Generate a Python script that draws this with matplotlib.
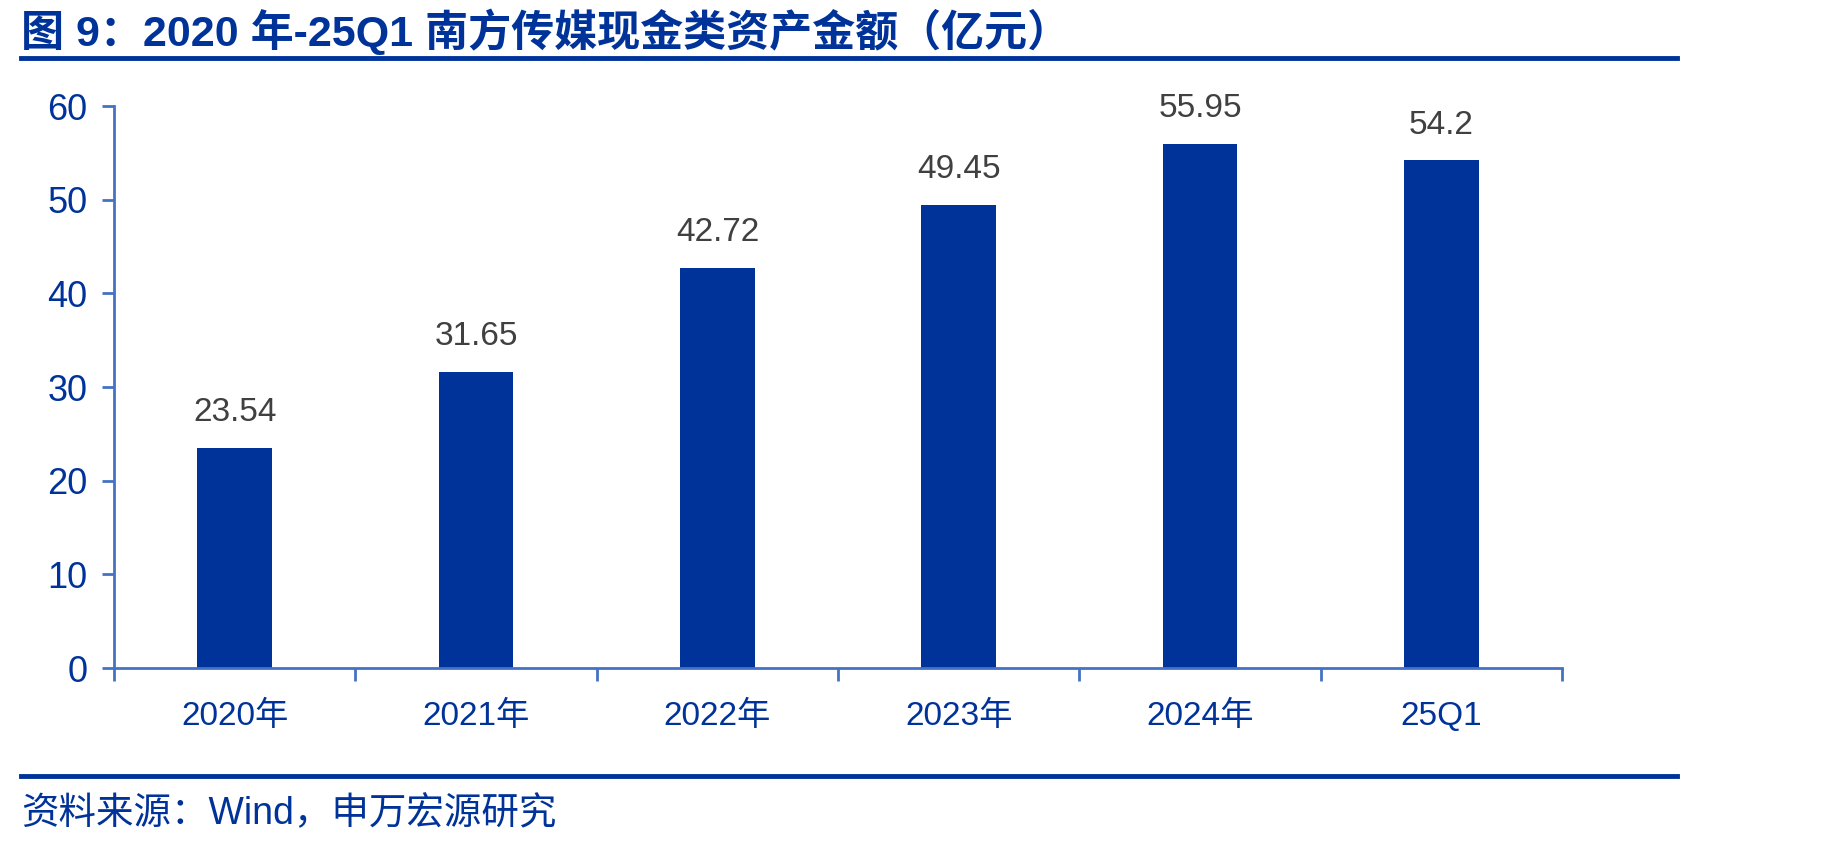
import matplotlib
matplotlib.use("Agg")
import matplotlib.pyplot as plt
from matplotlib.lines import Line2D

plt.rcParams['font.family'] = ['Liberation Sans', 'Noto Sans CJK SC', 'DejaVu Sans']

categories = ['2020年', '2021年', '2022年', '2023年', '2024年', '25Q1']
values = [23.54, 31.65, 42.72, 49.45, 55.95, 54.2]
value_labels = ['23.54', '31.65', '42.72', '49.45', '55.95', '54.2']
yticks = [0, 10, 20, 30, 40, 50, 60]

dark_blue = '#003399'
axis_blue = '#4472C4'

fig = plt.figure(figsize=(18.49, 8.46), dpi=100)
ax = fig.add_axes([0.0617, 0.2104, 0.7831, 0.6643])

x = list(range(len(categories)))
ax.bar(x, values, width=0.31, color=dark_blue, zorder=2)

for xi, v, lab in zip(x, values, value_labels):
    ax.annotate(lab, (xi, v), xytext=(0, 14), textcoords='offset points',
                ha='center', va='bottom', fontsize=24, color='#404040')

ax.set_xlim(-0.5, len(categories) - 0.5)
ax.set_ylim(0, 60)
ax.set_yticks(yticks)
ax.set_yticklabels([str(t) for t in yticks])

# category labels centred, tick marks at the boundaries
ax.set_xticks(x)
ax.set_xticklabels(categories)
ax.tick_params(axis='x', which='major', length=0, pad=24, labelsize=24, labelcolor=dark_blue)
ax.set_xticks([i - 0.5 for i in range(len(categories) + 1)], minor=True)
ax.tick_params(axis='x', which='minor', length=9, width=2, color=axis_blue, direction='out')
ax.tick_params(axis='y', length=9, width=2, color=axis_blue, direction='out',
               labelsize=26, labelcolor=dark_blue, pad=10)

for s in ['top', 'right']:
    ax.spines[s].set_visible(False)
for s in ['left', 'bottom']:
    ax.spines[s].set_color(axis_blue)
    ax.spines[s].set_linewidth(2)

# title, rules and source note
fig.text(0.0114, 0.962, '图 9：2020 年-25Q1 南方传媒现金类资产金额（亿元）',
         fontsize=31, fontweight='bold', color=dark_blue, ha='left', va='center')
fig.add_artist(Line2D([0.0114, 0.907], [0.932, 0.932], color=dark_blue, lw=3.5,
                      transform=fig.transFigure))
fig.add_artist(Line2D([0.0114, 0.907], [0.083, 0.083], color=dark_blue, lw=3.5,
                      transform=fig.transFigure))
fig.text(0.0114, 0.038, '资料来源：Wind，申万宏源研究',
         fontsize=27, color=dark_blue, ha='left', va='center')

fig.savefig('out.png', dpi=100)
